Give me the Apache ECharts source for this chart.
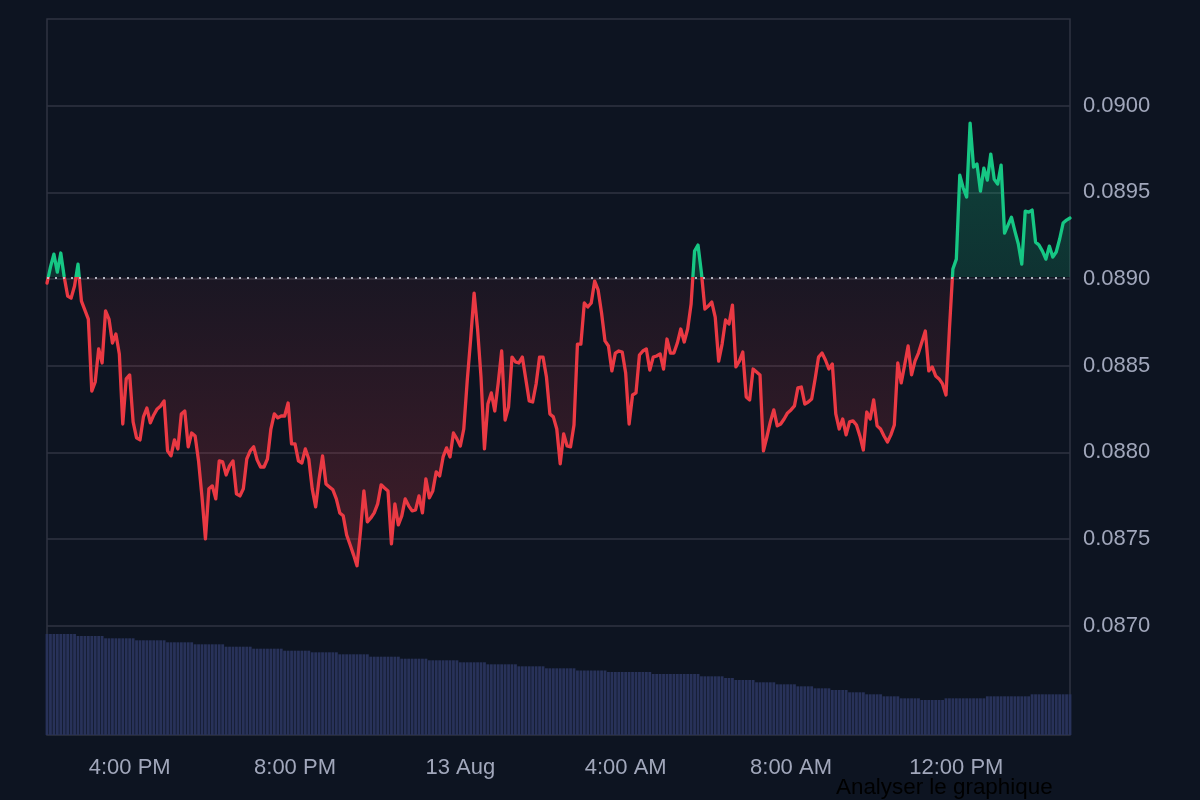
<!DOCTYPE html>
<html>
<head>
<meta charset="utf-8">
<script src="https://cdn.jsdelivr.net/npm/echarts@6/dist/echarts.min.js"></script>
<style>
  html, body { margin: 0; padding: 0; background: #0d1421; }
  #main { width: 1200px; height: 800px; }
</style>
</head>
<body>
<div id="main"></div>
<script>
// prix toutes les 5 min, 12 Aug 14:00 -> 13 Aug 14:45
var prices = [
  0.088977, 0.089069, 0.089144, 0.089040, 0.089150, 0.089012, 0.088902, 0.088890, 0.088960, 0.089086,
  0.088873, 0.088821, 0.088769, 0.088354, 0.088406, 0.088597, 0.088516, 0.088816, 0.088769, 0.088631,
  0.088683, 0.088568, 0.088164, 0.088424, 0.088447, 0.088176, 0.088084, 0.088072, 0.088205, 0.088256,
  0.088170, 0.088216, 0.088251, 0.088268, 0.088297, 0.088009, 0.087980, 0.088072, 0.088020, 0.088222,
  0.088239, 0.088032, 0.088112, 0.088095, 0.087951, 0.087743, 0.087501, 0.087790, 0.087807, 0.087732,
  0.087951, 0.087945, 0.087870, 0.087922, 0.087951, 0.087761, 0.087749, 0.087790, 0.087962, 0.088009,
  0.088032, 0.087957, 0.087916, 0.087916, 0.087962, 0.088135, 0.088222, 0.088199, 0.088210, 0.088210,
  0.088285, 0.088049, 0.088049, 0.087951, 0.087939, 0.088020, 0.087962, 0.087790, 0.087686, 0.087847,
  0.087980, 0.087818, 0.087801, 0.087784, 0.087732, 0.087651, 0.087634, 0.087524, 0.087467, 0.087409,
  0.087346, 0.087542, 0.087778, 0.087599, 0.087622, 0.087651, 0.087703, 0.087813, 0.087795, 0.087778,
  0.087473, 0.087703, 0.087582, 0.087634, 0.087732, 0.087692, 0.087663, 0.087669, 0.087749, 0.087651,
  0.087847, 0.087738, 0.087778, 0.087888, 0.087864, 0.087974, 0.088026, 0.087974, 0.088112, 0.088078,
  0.088037, 0.088135, 0.088412, 0.088654, 0.088919, 0.088712, 0.088435, 0.088020, 0.088279, 0.088343,
  0.088239, 0.088401, 0.088585, 0.088187, 0.088262, 0.088550, 0.088522, 0.088516, 0.088550, 0.088424,
  0.088297, 0.088291, 0.088395, 0.088550, 0.088550, 0.088435, 0.088222, 0.088205, 0.088135, 0.087934,
  0.088107, 0.088037, 0.088032, 0.088158, 0.088625, 0.088625, 0.088862, 0.088839, 0.088862, 0.088988,
  0.088937, 0.088804, 0.088643, 0.088614, 0.088470, 0.088573, 0.088585, 0.088579, 0.088458, 0.088164,
  0.088331, 0.088343, 0.088562, 0.088585, 0.088597, 0.088475, 0.088550, 0.088556, 0.088568, 0.088481,
  0.088654, 0.088573, 0.088573, 0.088631, 0.088712, 0.088637, 0.088712, 0.088856, 0.089161, 0.089196,
  0.089035, 0.088827, 0.088844, 0.088867, 0.088781, 0.088527, 0.088625, 0.088764, 0.088741, 0.088850,
  0.088493, 0.088527, 0.088579, 0.088320, 0.088303, 0.088481, 0.088464, 0.088447, 0.088009, 0.088089,
  0.088176, 0.088245, 0.088153, 0.088164, 0.088193, 0.088228, 0.088245, 0.088268, 0.088372, 0.088377,
  0.088279, 0.088291, 0.088308, 0.088424, 0.088550, 0.088573, 0.088533, 0.088481, 0.088510, 0.088222,
  0.088135, 0.088193, 0.088101, 0.088176, 0.088182, 0.088158, 0.088095, 0.088014, 0.088233, 0.088193,
  0.088303, 0.088153, 0.088135, 0.088095, 0.088060, 0.088101, 0.088158, 0.088516, 0.088401, 0.088504,
  0.088614, 0.088447, 0.088527, 0.088573, 0.088637, 0.088700, 0.088470, 0.088493, 0.088441, 0.088424,
  0.088395, 0.088331, 0.088712, 0.089058, 0.089115, 0.089599, 0.089525, 0.089473, 0.089899, 0.089646,
  0.089663, 0.089507, 0.089640, 0.089571, 0.089721, 0.089576, 0.089548, 0.089657, 0.089265, 0.089311,
  0.089357, 0.089277, 0.089202, 0.089086, 0.089392, 0.089386, 0.089398, 0.089213, 0.089196, 0.089161,
  0.089115, 0.089190, 0.089127, 0.089156, 0.089231, 0.089323, 0.089340, 0.089352
];
// volume 24h (millions)
var volume24h = [
  10.1, 10.1, 10.1, 10.1, 10.1, 10.1, 10.1, 10.1, 10.1,
  9.9, 9.9, 9.9, 9.9, 9.9, 9.9, 9.9, 9.9,
  9.67, 9.67, 9.67, 9.67, 9.67, 9.67, 9.67, 9.67, 9.67,
  9.47, 9.47, 9.47, 9.47, 9.47, 9.47, 9.47, 9.47, 9.47,
  9.27, 9.27, 9.27, 9.27, 9.27, 9.27, 9.27, 9.27,
  9.07, 9.07, 9.07, 9.07, 9.07, 9.07, 9.07, 9.07, 9.07,
  8.83, 8.83, 8.83, 8.83, 8.83, 8.83, 8.83, 8.83,
  8.63, 8.63, 8.63, 8.63, 8.63, 8.63, 8.63, 8.63, 8.63,
  8.43, 8.43, 8.43, 8.43, 8.43, 8.43, 8.43, 8.43,
  8.27, 8.27, 8.27, 8.27, 8.27, 8.27, 8.27, 8.27,
  8.07, 8.07, 8.07, 8.07, 8.07, 8.07, 8.07, 8.07, 8.07,
  7.83, 7.83, 7.83, 7.83, 7.83, 7.83, 7.83, 7.83, 7.83,
  7.63, 7.63, 7.63, 7.63, 7.63, 7.63, 7.63, 7.63,
  7.47, 7.47, 7.47, 7.47, 7.47, 7.47, 7.47, 7.47, 7.47,
  7.27, 7.27, 7.27, 7.27, 7.27, 7.27, 7.27, 7.27,
  7.07, 7.07, 7.07, 7.07, 7.07, 7.07, 7.07, 7.07, 7.07,
  6.87, 6.87, 6.87, 6.87, 6.87, 6.87, 6.87, 6.87,
  6.67, 6.67, 6.67, 6.67, 6.67, 6.67, 6.67, 6.67, 6.67,
  6.45, 6.45, 6.45, 6.45, 6.45, 6.45, 6.45, 6.45, 6.45,
  6.3, 6.3, 6.3, 6.3, 6.3, 6.3, 6.3, 6.3, 6.3, 6.3, 6.3, 6.3, 6.3,
  6.1, 6.1, 6.1, 6.1, 6.1, 6.1, 6.1, 6.1, 6.1, 6.1, 6.1, 6.1, 6.1, 6.1,
  5.87, 5.87, 5.87, 5.87, 5.87, 5.87, 5.87,
  5.7, 5.7, 5.7,
  5.5, 5.5, 5.5, 5.5, 5.5, 5.5,
  5.27, 5.27, 5.27, 5.27, 5.27, 5.27,
  5.07, 5.07, 5.07, 5.07, 5.07, 5.07,
  4.87, 4.87, 4.87, 4.87, 4.87,
  4.67, 4.67, 4.67, 4.67, 4.67,
  4.5, 4.5, 4.5, 4.5, 4.5,
  4.27, 4.27, 4.27, 4.27, 4.27,
  4.07, 4.07, 4.07, 4.07, 4.07,
  3.87, 3.87, 3.87, 3.87, 3.87,
  3.67, 3.67, 3.67, 3.67, 3.67, 3.67,
  3.5, 3.5, 3.5, 3.5, 3.5, 3.5, 3.5,
  3.67, 3.67, 3.67, 3.67, 3.67, 3.67, 3.67, 3.67, 3.67, 3.67, 3.67, 3.67,
  3.87, 3.87, 3.87, 3.87, 3.87, 3.87, 3.87, 3.87, 3.87, 3.87, 3.87, 3.87, 3.87,
  4.07, 4.07, 4.07, 4.07, 4.07, 4.07, 4.07, 4.07, 4.07, 4.07, 4.07, 4.07
];
var basePrice = 0.08901; // prix de reference (ligne pointillee)
var priceTicks = [0.0870, 0.0875, 0.0880, 0.0885, 0.0890, 0.0895, 0.0900];
var tickIndex = [24, 72, 120, 168, 216, 264];
var tickLabels = ['4:00 PM', '8:00 PM', '13 Aug', '4:00 AM', '8:00 AM', '12:00 PM'];

var red = '#ea3943', green = '#16c784';
var labelColor = '#a1a7bb';
var gridColor = '#2f3342';

// categories : horodatage toutes les 5 min
var times = [];
for (var i = 0; i < prices.length; i++) {
    var m = 14 * 60 + i * 5;
    var day = m >= 1440 ? 13 : 12;
    m = m % 1440;
    var hh = Math.floor(m / 60), mm = m % 60;
    times.push('Aug ' + day + ' ' + (hh < 10 ? '0' : '') + hh + ':' + (mm < 10 ? '0' : '') + mm);
}

// la ligne et l'aire ont la meme boite englobante (min..max des prix)
var maxP = Math.max.apply(null, prices);
var minP = Math.min.apply(null, prices);
var off = (maxP - basePrice) / (maxP - minP);

var myChart = echarts.init(document.getElementById('main'));
var option = {
    animation: false,
    backgroundColor: '#0d1421',
    textStyle: { fontFamily: '"Liberation Sans", Arial, sans-serif' },
    grid: {
        left: 47, right: 130, top: 19, bottom: 65,
        show: true,
        borderColor: gridColor,
        borderWidth: 1.5
    },
    xAxis: {
        type: 'category',
        data: times,
        boundaryGap: false,
        axisLine: { show: false },
        axisTick: { show: false },
        splitLine: { show: false },
        axisLabel: {
            color: labelColor,
            fontSize: 22,
            margin: 22,
            interval: function(idx) {
                return tickIndex.indexOf(idx) >= 0;
            },
            formatter: function(value, idx) {
                var k = tickIndex.indexOf(idx);
                return k >= 0 ? tickLabels[k] : '';
            }
        }
    },
    yAxis: [{
        type: 'value',
        position: 'right',
        min: 0.08637,
        max: 0.0905,
        axisLine: { show: false },
        axisTick: { show: false, customValues: priceTicks },
        axisLabel: {
            customValues: priceTicks,
            color: labelColor,
            fontSize: 22,
            margin: 13,
            formatter: function(v) { return v.toFixed(4); }
        },
        splitLine: { show: true, lineStyle: { color: gridColor, width: 1.5 } }
    }, {
        type: 'value',
        min: 0,
        max: 71.6,
        show: false,
        splitLine: { show: false }
    }],
    series: [{
        name: 'Prix',
        type: 'line',
        data: prices,
        showSymbol: false,
        z: 3,
        lineStyle: {
            width: 3.3,
            join: 'round',
            cap: 'round',
            color: new echarts.graphic.LinearGradient(0, 0, 0, 1, [
                { offset: 0, color: green },
                { offset: off, color: green },
                { offset: off, color: red },
                { offset: 1, color: red }
            ])
        },
        areaStyle: {
            origin: basePrice,
            opacity: 1,
            color: new echarts.graphic.LinearGradient(0, 0, 0, 1, [
                { offset: 0, color: 'rgba(22,199,132,0.26)' },
                { offset: off, color: 'rgba(22,199,132,0.17)' },
                { offset: off, color: 'rgba(234,57,67,0.06)' },
                { offset: 1, color: 'rgba(234,57,67,0.24)' }
            ])
        },
        markLine: {
            silent: true,
            precision: 6,
            symbol: ['none', 'none'],
            label: { show: false },
            lineStyle: { color: 'rgba(205,209,220,0.85)', type: [2, 6], width: 2 },
            data: [{ yAxis: basePrice }]
        }
    }, {
        name: 'Volume',
        type: 'bar',
        yAxisIndex: 1,
        data: volume24h,
        barCategoryGap: '18%',
        z: 1,
        itemStyle: { color: '#283259' }
    }],
    graphic: [{
        type: 'text',
        left: 836,
        top: 777,
        style: {
            text: 'Analyser le graphique',
            fill: '#000000',
            font: '22.4px "Liberation Sans", Arial, sans-serif'
        }
    }]
};
myChart.setOption(option);
</script>
</body>
</html>
